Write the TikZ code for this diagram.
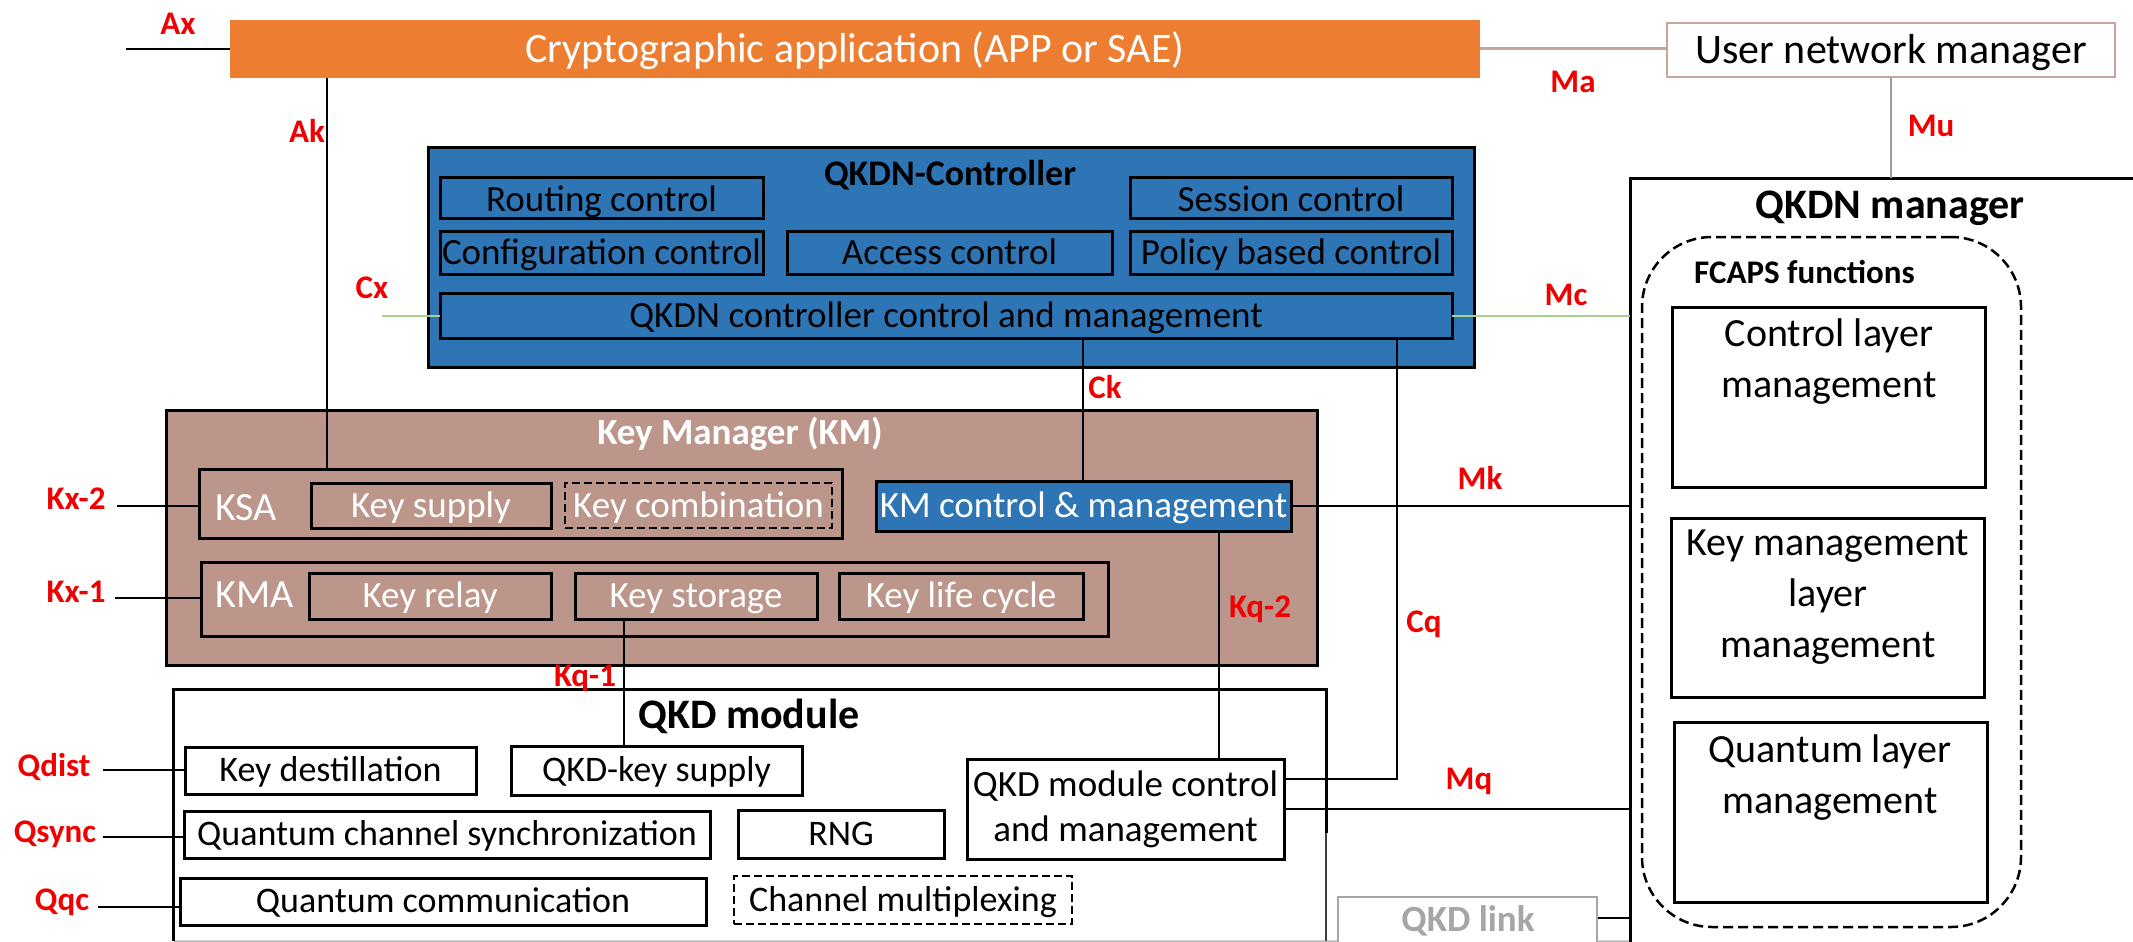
\documentclass[tikz,border=0pt]{standalone}
\usepackage{fontspec}
\setmainfont{Carlito}
\usetikzlibrary{calc}
\definecolor{orng}{HTML}{ED7D31}
\definecolor{cblue}{HTML}{2E75B6}
\definecolor{kmbrown}{RGB}{188,150,139}
\definecolor{rosy}{RGB}{200,164,156}
\definecolor{lgreen}{HTML}{A9D18E}
\definecolor{midgray}{HTML}{9A9A9A}
\definecolor{lgray}{HTML}{A6A6A6}
\definecolor{edgegray}{HTML}{BBBBBB}
\definecolor{lblred}{HTML}{F00000}
\newcommand{\mybox}[7]{%
  \pgfmathsetmacro{\mbw}{#4-#2}%
  \pgfmathsetmacro{\mbh}{#5-#3}%
  \node[#6, minimum width=\mbw pt, minimum height=\mbh pt] (#1) at ({(#2+#4)/2},{(#3+#5)/2}) {#7};}
\tikzset{
  boxk/.style={draw=black, line width=3pt, inner sep=0pt, outer sep=0pt},
  tx37/.style={font=\fontsize{37}{45}\selectfont, text height=23.4pt, text depth=0pt},
  tx37l/.style={font=\fontsize{37}{45}\selectfont, text height=27.4pt, text depth=0pt},
  tx36/.style={font=\fontsize{36}{44}\selectfont, text height=22.8pt, text depth=0pt},
  tx42/.style={font=\fontsize{42}{51}\selectfont, text height=26.5pt, text depth=0pt},
  tx40/.style={font=\fontsize{40}{49}\selectfont, text height=25.3pt, text depth=0pt, inner sep=0pt},
  ml40/.style={font=\fontsize{40}{51}\selectfont, align=center, inner sep=0pt, anchor=north},
  bd36/.style={font=\fontsize{36}{44}\selectfont\bfseries, text height=22.8pt, text depth=0pt, inner sep=0pt},
  bd37/.style={font=\fontsize{37}{45}\selectfont\bfseries, text height=23.4pt, text depth=0pt, inner sep=0pt},
  bd42/.style={font=\fontsize{42}{51}\selectfont\bfseries, text height=26.5pt, text depth=0pt, inner sep=0pt},
  bd33/.style={font=\fontsize{33}{40}\selectfont\bfseries, text height=20.9pt, text depth=0pt, inner sep=0pt},
  redlab/.style={font=\fontsize{33}{40}\selectfont\bfseries, text=lblred, text height=20.9pt, text depth=0pt, inner sep=0pt},
  conn/.style={draw=black, line width=2.7pt},
  dsh/.style={dash pattern=on 8pt off 4pt},
}
\begin{document}
\begin{tikzpicture}[x=1pt,y=-1pt]
\useasboundingbox (0,0) rectangle (2133,942);
\clip (0,0) rectangle (2133,942);
% ---------- top row
\mybox{app}{230}{20}{1480}{78}{fill=orng, inner sep=0pt, text=white, tx42}{Cryptographic application (APP or SAE)}
\mybox{unm}{1667}{23}{2115}{77}{draw=rosy, line width=2.5pt, fill=white, inner sep=0pt, tx42}{User network manager}
% ---------- QKDN controller
\mybox{ctl}{428}{147}{1474}{367}{boxk, fill=cblue}{}
\node[bd36] (ctltitle) at (950,174) {QKDN-Controller};
\mybox{rout}{440}{177}{763}{218}{boxk, tx37l}{Routing control}
\mybox{conf}{440}{231}{763}{274}{boxk, tx37}{Configuration control}
\mybox{acc}{787}{231}{1112}{274}{boxk, tx37}{Access control}
\mybox{sess}{1130}{177}{1452}{218}{boxk, tx37l}{Session control}
\mybox{pol}{1130}{231}{1452}{274}{boxk, tx37}{Policy based control}
\mybox{cmgmt}{440}{293}{1452}{338}{boxk, tx37}{QKDN controller control and management}
% ---------- Key manager
\mybox{km}{166}{410}{1317}{665}{boxk, fill=kmbrown}{}
\node[bd37, text=white] (kmtitle) at (740,433) {Key Manager (KM)};
\mybox{ksa}{199}{469}{842}{538}{boxk}{}
\node[tx40, text=white, anchor=west] (ksalbl) at (215,508) {KSA};
\mybox{ksup}{311}{483}{551}{528}{boxk, tx37, text=white}{Key supply}
\mybox{kcomb}{565}{483}{832}{528}{boxk, line width=2.5pt, dsh, tx37, text=white}{Key combination}
\mybox{kma}{201}{562}{1108}{636}{boxk}{}
\node[tx40, text=white, anchor=west] (kmalbl) at (215,595) {KMA};
\mybox{krel}{309}{573}{551}{619}{boxk, tx37, text=white}{Key relay}
\mybox{ksto}{575}{573}{817}{619}{boxk, tx37, text=white}{Key storage}
\mybox{klc}{839}{573}{1083}{619}{boxk, tx37, text=white}{Key life cycle}
\mybox{kmc}{876}{481}{1291}{531}{boxk, fill=cblue, tx37, text=white}{KM control \& management}
% ---------- QKD module
\mybox{qkdm}{174}{690}{1326}{941}{fill=white, inner sep=0pt}{}
\draw[edgegray, line width=1.5pt] (qkdm.south west) -- (2133,941);
\draw[black, line width=3pt] (qkdm.south west) -- (qkdm.north west) -- (qkdm.north east) -- ($(qkdm.north east)+(0,143)$);
\draw[black!75, line width=1.5pt] ($(qkdm.north east)+(0,143)$) -- (qkdm.south east);
\node[bd42] (qkdmtitle) at (749,715) {QKD module};
\mybox{kdest}{185}{747}{476}{794}{boxk, tx36}{Key destillation}
\mybox{qks}{511}{746}{802}{795}{boxk, tx36}{QKD-key supply}
\mybox{qcs}{184}{811}{710}{858}{boxk, tx36}{Quantum channel synchronization}
\mybox{rng}{738}{810}{944}{858}{boxk, tx36}{RNG}
\mybox{qcom}{180}{878}{706}{925}{boxk, tx36}{Quantum communication}
\mybox{chmux}{734}{876}{1072}{924}{boxk, line width=2.5pt, dsh, tx36}{Channel multiplexing}
\mybox{qmc}{967}{759}{1284}{859}{boxk, fill=white, align=center, font=\fontsize{37}{45}\selectfont}{QKD module control\\and management}
\mybox{qlink}{1338}{897}{1597}{990}{draw=lgray, line width=2.5pt, fill=white, inner sep=0pt}{}
\node[bd37, text=lgray, anchor=base] (qlinktxt) at (1468,931) {QKD link};
% ---------- QKDN manager
\mybox{qmgr}{1630}{178}{2200}{1000}{boxk, fill=white}{}
\node[bd42] (qmgrtitle) at (1890,205) {QKDN manager};
\mybox{fcaps}{1642}{237}{2021}{927}{draw=black, line width=2.5pt, dash pattern=on 10pt off 5pt, rounded corners=70pt}{}
\node[bd33, anchor=west] (fcapst) at (1694,273) {FCAPS functions};
\mybox{clm}{1672}{307}{1985}{487}{boxk}{}
\node[ml40] (clmt) at (1829,319) {Control layer\\management};
\mybox{kmlm}{1671}{518}{1984}{697}{boxk}{}
\node[ml40] (kmlmt) at (1828,530) {Key management\\layer\\management};
\mybox{qlm}{1674}{722}{1987}{902}{boxk}{}
\node[ml40] (qlmt) at (1830,735) {Quantum layer\\management};
% ---------- helper coordinates
\coordinate (axe) at (126,49);
\coordinate (akx) at (327,0);
\coordinate (cxe) at (382,316);
\coordinate (ckx) at (1083,0);
\coordinate (cqc) at (1397,779);
\coordinate (kx2e) at (117,506);
\coordinate (kx1e) at (115,598);
\coordinate (kq2x) at (1219,0);
\coordinate (kq1x) at (624,0);
\coordinate (qde) at (103,770);
\coordinate (qse) at (103,837);
\coordinate (qqe) at (98,907);
\coordinate (qly) at (0,918);
% ---------- connectors
\draw[conn] (axe) -- (app.west |- axe);
\draw[rosy, line width=3pt] (app.east) -- (app.east -| unm.west);
\draw[midgray, line width=2.5pt] (unm.south) -- (unm.south |- qmgr.north);
\draw[conn] (app.south -| akx) -- (ksa.north -| akx);
\draw[lgreen, line width=2.5pt] (cxe) -- (cmgmt.west |- cxe);
\draw[lgreen, line width=2.5pt] (cmgmt.east |- cxe) -- (qmgr.west |- cxe);
\draw[conn] (cmgmt.south -| ckx) -- (kmc.north -| ckx);
\draw[conn] (cmgmt.south -| cqc) -- (cqc) -- (qmc.east |- cqc);
\draw[conn] (kx2e) -- (ksa.west |- kx2e);
\draw[conn] (kx1e) -- (kma.west |- kx1e);
\draw[conn] (kmc.east) -- (kmc.east -| qmgr.west);
\draw[conn] (kmc.south -| kq2x) -- (qmc.north -| kq2x);
\draw[conn] (ksto.south -| kq1x) -- (qks.north -| kq1x);
\draw[conn] (qde) -- (kdest.west |- qde);
\draw[conn] (qse) -- (qcs.west |- qse);
\draw[conn] (qqe) -- (qcom.west |- qqe);
\draw[conn] (qmc.east) -- (qmc.east -| qmgr.west);
\draw[conn] (qlink.east |- qly) -- (qmgr.west |- qly);
% ---------- interface labels
\node[redlab] (lax) at (178,24) {Ax};
\node[redlab] (lak) at (307,132) {Ak};
\node[redlab] (lma) at (1573,82) {Ma};
\node[redlab] (lmu) at (1931,126) {Mu};
\node[redlab] (lcx) at (372,288) {Cx};
\node[redlab] (lmc) at (1566,295) {Mc};
\node[redlab] (lck) at (1105,388) {Ck};
\node[redlab] (lmk) at (1480,479) {Mk};
\node[redlab] (lkq2) at (1260,607) {Kq-2};
\node[redlab] (lcq) at (1424,622) {Cq};
\node[redlab] (lkq1) at (585,676) {Kq-1};
\node[redlab] (lmq) at (1469,779) {Mq};
\node[redlab] (lkx2) at (76,499) {Kx-2};
\node[redlab] (lkx1) at (76,592) {Kx-1};
\node[redlab] (lqd) at (54,766) {Qdist};
\node[redlab] (lqs) at (55,832) {Qsync};
\node[redlab] (lqq) at (62,900) {Qqc};
\end{tikzpicture}
\end{document}
